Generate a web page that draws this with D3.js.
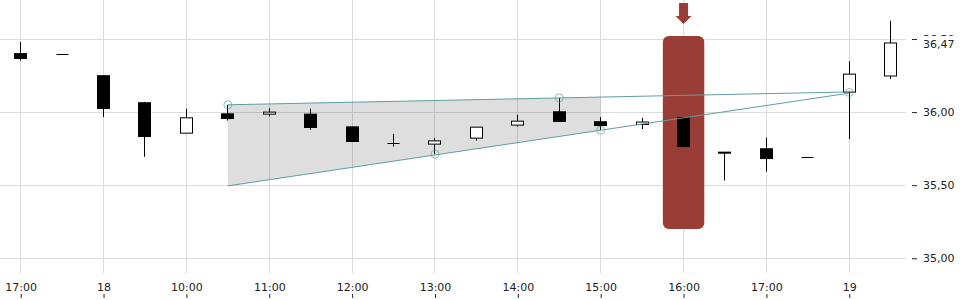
<!DOCTYPE html>
<html>
<head>
<meta charset="utf-8">
<script src="https://cdn.jsdelivr.net/npm/d3@7"></script>
<style>
  html, body { margin: 0; padding: 0; background: #fff; }
  svg { display: block; font-family: "DejaVu Sans", sans-serif; }
</style>
</head>
<body>
<svg id="chart" width="960" height="300"></svg>
<script>
// half hour slots, day 17 -> 19
var slots = ["17 17:00","17 17:30","18 09:00","18 09:30","18 10:00","18 10:30","18 11:00","18 11:30",
             "18 12:00","18 12:30","18 13:00","18 13:30","18 14:00","18 14:30","18 15:00","18 15:30",
             "18 16:00","18 16:30","18 17:00","18 17:30","19 09:00","19 09:30"];
var open  = [36.400,36.397,36.249,36.064,35.856,35.988,35.986,35.986,35.899,35.788,35.781,35.822,35.911,36.002,35.934,35.915,35.963,35.726,35.749,35.687,36.137,36.247];
var high  = [36.480,36.397,36.249,36.070,36.023,36.050,36.027,36.023,35.899,35.851,35.822,35.897,35.982,36.098,35.966,35.961,35.963,35.726,35.826,35.687,36.349,36.625];
var low   = [36.353,36.397,35.966,35.694,35.856,35.942,35.970,35.879,35.799,35.764,35.714,35.805,35.901,35.936,35.879,35.884,35.764,35.532,35.593,35.687,35.815,36.226];
var close = [36.367,36.397,36.025,35.833,35.961,35.956,36.000,35.895,35.799,35.788,35.803,35.897,35.938,35.936,35.908,35.932,35.764,35.722,35.682,35.687,36.260,36.473];

var xTickSlots  = [0,2,4,6,8,10,12,14,16,18,20];
var xTickLabels = ["17:00","18","10:00","11:00","12:00","13:00","14:00","15:00","16:00","17:00","19"];
var yTicks = [35.0, 35.5, 36.0, 36.5];
var lastPrice = 36.473;

// trend lines (slot, price) and the touch points
var upperLine = [[5, 36.050], [20, 36.138]];
var lowerLine = [[5, 35.495], [20, 36.130]];
var touchPoints = [[5, 36.050], [13, 36.097], [10, 35.712], [14, 35.876], [20, 36.134]];
var wedgeSlots = [5, 14];

// signal highlight
var signalSlot = 16;
var signalRange = [35.20, 36.52];

var svg = d3.select("#chart");
var x = d3.scaleLinear().domain([0, 21]).range([20.7, 890.7]);
var y = d3.scaleLinear().domain([34.906, 36.767]).range([272, 0]);
var slotW = x(1) - x(0);
var bodyW = 12;
var crisp = function(v) { return Math.floor(v) + 0.5; };
var fmt = d3.formatLocale({decimal: ",", thousands: ".", grouping: [3], currency: ["", "€"]}).format(".2f");

// grid
var grid = svg.append("g");
grid.selectAll(".vg").data(xTickSlots).enter().append("line")
  .attr("x1", d => crisp(x(d))).attr("x2", d => crisp(x(d)))
  .attr("y1", 0).attr("y2", 273)
  .attr("stroke", "#dcdcdc");
grid.selectAll(".hg").data(yTicks).enter().append("line")
  .attr("x1", 0).attr("x2", 906)
  .attr("y1", d => crisp(y(d))).attr("y2", d => crisp(y(d)))
  .attr("stroke", "#dcdcdc");

// wedge shading
function lineAt(l, s) {
  var t = (s - l[0][0]) / (l[1][0] - l[0][0]);
  return l[0][1] + t * (l[1][1] - l[0][1]);
}
var poly = [
  [wedgeSlots[0], lineAt(upperLine, wedgeSlots[0])],
  [wedgeSlots[1], lineAt(upperLine, wedgeSlots[1])],
  [wedgeSlots[1], lineAt(lowerLine, wedgeSlots[1])],
  [wedgeSlots[0], lineAt(lowerLine, wedgeSlots[0])]
];
svg.append("path")
  .attr("d", "M" + poly.map(p => x(p[0]) + "," + y(p[1])).join("L") + "Z")
  .attr("fill", "rgba(0,0,0,0.13)");

// highlight + arrow
var hx = x(signalSlot);
var hTop = y(signalRange[1]);
svg.append("rect")
  .attr("x", hx - slotW / 2).attr("y", hTop)
  .attr("width", slotW).attr("height", y(signalRange[0]) - hTop)
  .attr("rx", 6).attr("ry", 6)
  .attr("fill", "#9a3d36");
svg.append("path")
  .attr("d", "M" + (hx - 4.5) + "," + (hTop - 33) + "L" + (hx + 4.5) + "," + (hTop - 33) +
             "L" + (hx + 4.5) + "," + (hTop - 20) + "L" + (hx + 8) + "," + (hTop - 20) +
             "L" + hx + "," + (hTop - 12) + "L" + (hx - 8) + "," + (hTop - 20) +
             "L" + (hx - 4.5) + "," + (hTop - 20) + "Z")
  .attr("fill", "#9a3d36");

// candles
var candles = svg.append("g").selectAll("g").data(slots.map((s, i) => i)).enter().append("g");
candles.append("line")
  .attr("x1", i => crisp(x(i))).attr("x2", i => crisp(x(i)))
  .attr("y1", i => y(high[i])).attr("y2", i => y(low[i]))
  .attr("stroke", "#000");
candles.filter(i => Math.abs(open[i] - close[i]) < 0.002).append("line")
  .attr("x1", i => crisp(x(i)) - bodyW / 2).attr("x2", i => crisp(x(i)) + bodyW / 2)
  .attr("y1", i => crisp(y(open[i]))).attr("y2", i => crisp(y(open[i])))
  .attr("stroke", "#000");
candles.filter(i => Math.abs(open[i] - close[i]) >= 0.002).append("rect")
  .attr("x", i => crisp(x(i)) - bodyW / 2)
  .attr("y", i => y(Math.max(open[i], close[i])))
  .attr("width", bodyW)
  .attr("height", i => Math.max(1, Math.abs(y(open[i]) - y(close[i]))))
  .attr("fill", i => close[i] >= open[i] ? "#fff" : "#000")
  .attr("stroke", "#000");

// trend lines
[upperLine, lowerLine].forEach(function(l) {
  svg.append("line")
    .attr("x1", x(l[0][0])).attr("y1", y(l[0][1]))
    .attr("x2", x(l[1][0])).attr("y2", y(l[1][1]))
    .attr("stroke", "#5f9ea0").attr("stroke-width", 1);
});
svg.selectAll(".tp").data(touchPoints).enter().append("circle")
  .attr("cx", d => x(d[0])).attr("cy", d => y(d[1])).attr("r", 4)
  .attr("fill", "none").attr("stroke", "#5f9ea0").attr("stroke-opacity", 0.7);

// axes
var xAxis = svg.append("g").attr("transform", "translate(0,298)")
  .call(d3.axisTop(x).tickValues(xTickSlots).tickFormat((d, i) => xTickLabels[i]).tickSize(4).tickPadding(3));
var yAxis = svg.append("g").attr("transform", "translate(912,0)")
  .call(d3.axisRight(y).tickValues(yTicks).tickFormat(fmt).tickSize(5).tickPadding(6));
[xAxis, yAxis].forEach(function(a) {
  a.select(".domain").remove();
  a.selectAll("text").attr("font-family", "DejaVu Sans, sans-serif").attr("font-size", 11).attr("fill", "#222");
  a.selectAll("line").attr("stroke", "#222");
});

// last price label, drawn over the 36,50 tick label like the original
var ly = y(lastPrice) + 1.5;
svg.append("rect").attr("x", 920).attr("y", ly - 8.5).attr("width", 40).attr("height", 16).attr("fill", "#fff");
svg.append("text").attr("x", 923).attr("y", ly).attr("dy", "0.32em")
  .attr("font-size", 11).attr("fill", "#222").text(fmt(lastPrice));
</script>
</body>
</html>
